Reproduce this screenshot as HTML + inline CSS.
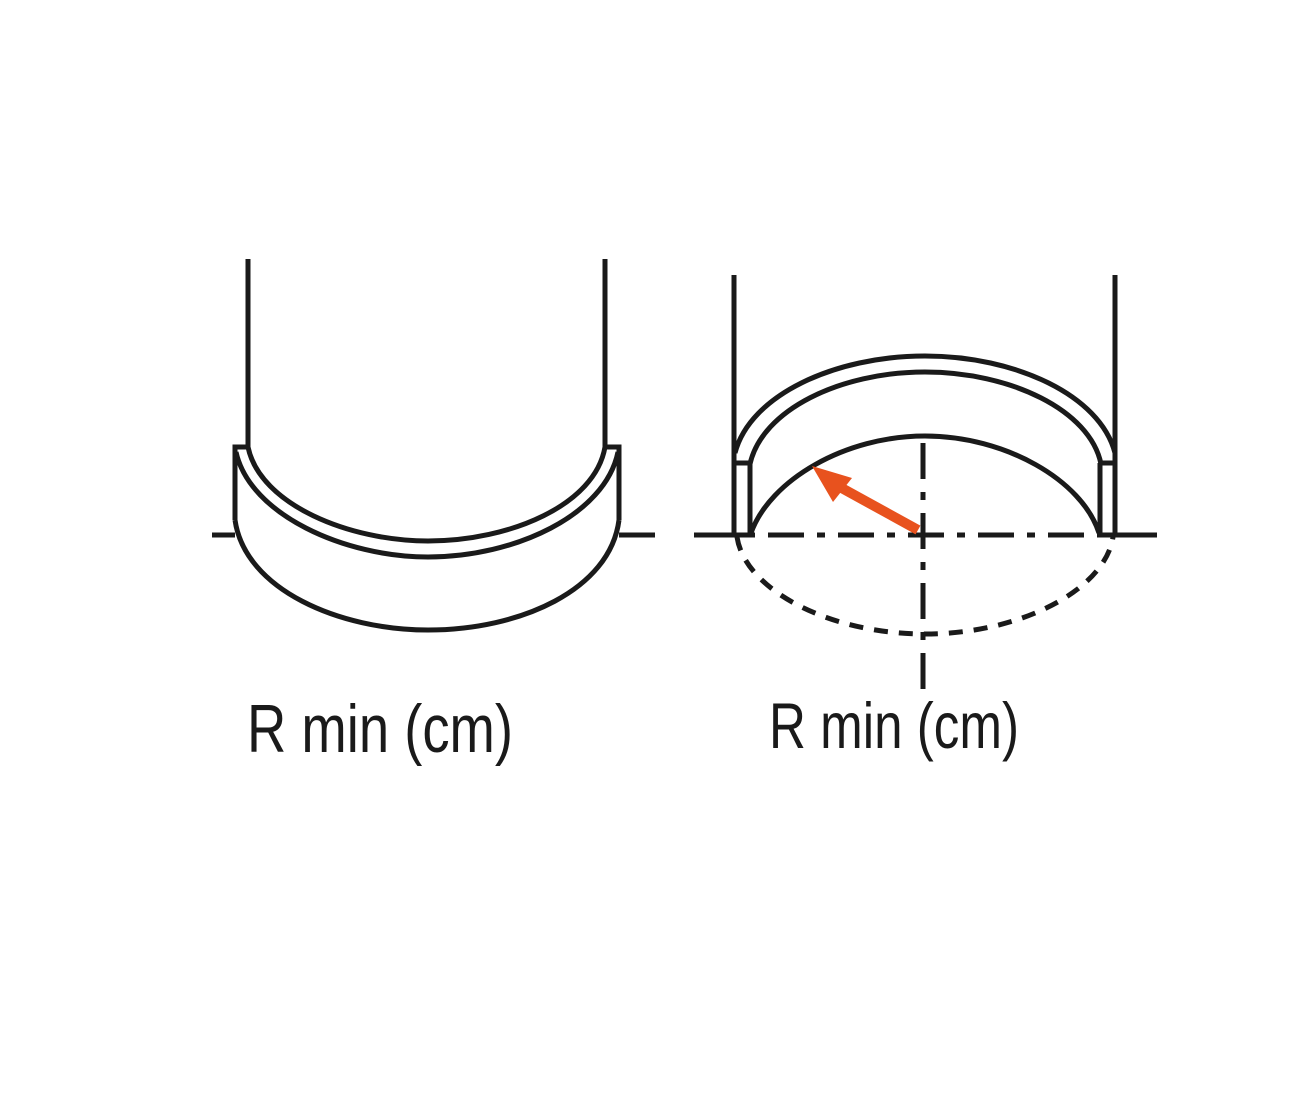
<!DOCTYPE html>
<html><head><meta charset="utf-8"><style>html,body{margin:0;padding:0;background:#fff}svg{display:block}</style></head>
<body>
<svg width="1294" height="1098" viewBox="0 0 1294 1098" xmlns="http://www.w3.org/2000/svg">
<g fill="none" stroke="#1a1a1a" stroke-width="5" stroke-linejoin="miter">
<!-- Left figure -->
<line x1="248" y1="259" x2="248" y2="447"/>
<line x1="605" y1="259" x2="605" y2="447"/>
<path d="M248,447 C260,505 350,541 428,541 C510,541 595,505 605,447"/>
<path d="M235,520 L235,447 L248,447"/>
<path d="M619,520 L619,447 L605,447"/>
<path d="M236,452 C250,515 345,557 428,557 C515,557 605,515 618,452"/>
<path d="M235,520 C245,590 340,630 428,630 C520,630 610,590 619,520"/>
<line x1="212" y1="535" x2="235" y2="535"/>
<line x1="619" y1="535" x2="655" y2="535"/>
<!-- Right figure -->
<line x1="734" y1="275" x2="734" y2="535"/>
<line x1="1115" y1="275" x2="1115" y2="535"/>
<path d="M735,453 C750,395 835,356 925,356 C1015,356 1100,395 1115,453"/>
<path d="M750,464 C762,410 840,372 925,372 C1010,372 1090,410 1101,464"/>
<line x1="735" y1="463" x2="750" y2="463"/>
<line x1="1100" y1="463" x2="1115" y2="463"/>
<line x1="750" y1="463" x2="750" y2="535"/>
<line x1="1100" y1="463" x2="1100" y2="535"/>
<path d="M751,533 C770,480 845,436 925,436 C1005,436 1082,480 1099,533"/>
<line x1="694" y1="535" x2="750" y2="535"/>
<line x1="1100" y1="535" x2="1157" y2="535"/>
<path d="M750,535 L1100,535" stroke-dasharray="36,13,8,13" stroke-dashoffset="-18"/>
<path d="M923,443 L923,690" stroke-dasharray="36,13,8,13"/>
<path d="M737,537 C745,590 830,634 925,634 C1020,634 1105,590 1113,537" stroke-dasharray="14,11"/>
</g>
<!-- arrow -->
<line x1="918" y1="530" x2="838" y2="486" stroke="#e8521e" stroke-width="10"/>
<polygon points="812,466 852,478 833,502" fill="#e8521e"/>
<!-- labels -->
<g font-family="'Liberation Sans Narrow','Liberation Sans',sans-serif" fill="#1a1a1a">
<text x="247" y="752" font-size="68" textLength="266" lengthAdjust="spacingAndGlyphs">R min (cm)</text>
<text x="769" y="748" font-size="65" textLength="250" lengthAdjust="spacingAndGlyphs">R min (cm)</text>
</g>
</svg>
</body></html>
